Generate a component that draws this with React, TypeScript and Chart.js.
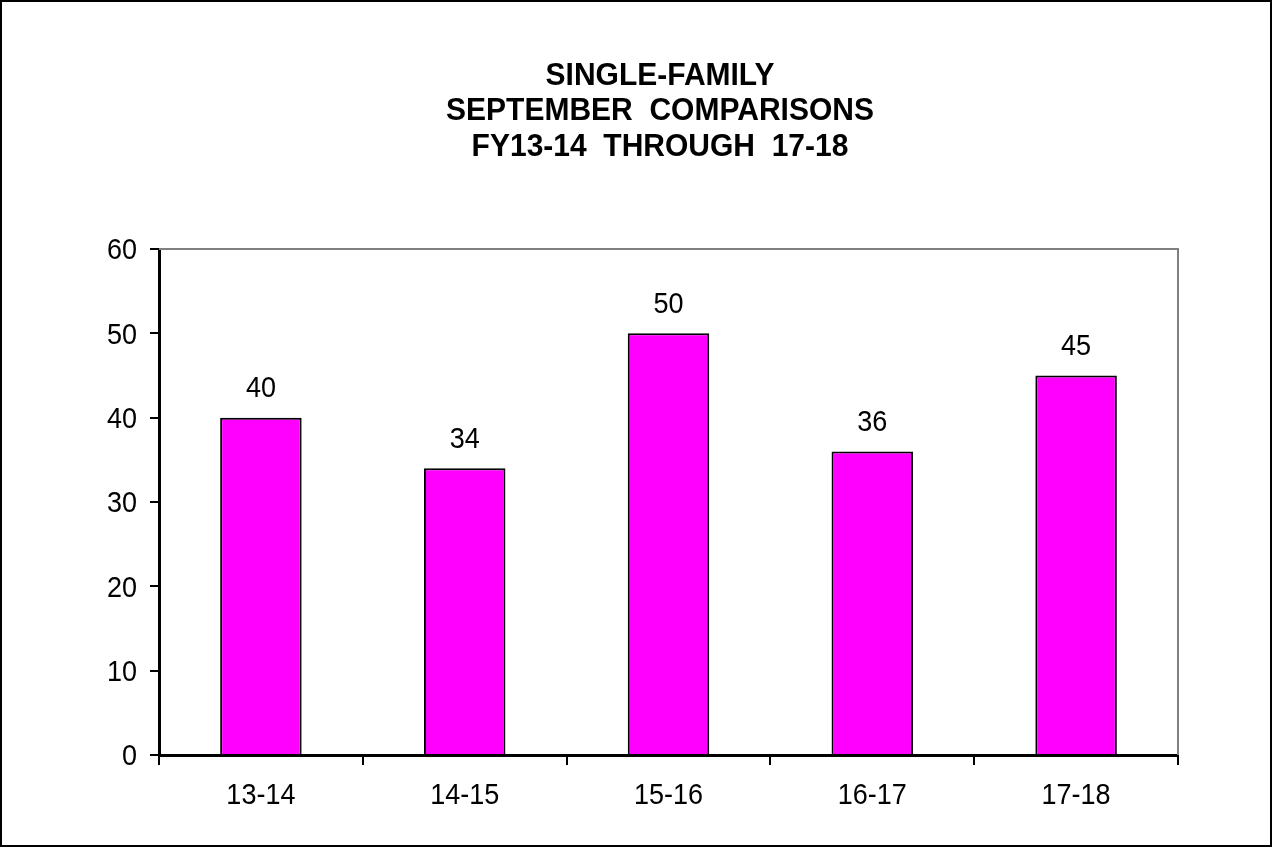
import React, { useEffect, useRef } from "react";
import { Chart, registerables } from "chart.js";

Chart.register(...registerables);

const titleLines = ["SINGLE-FAMILY", "SEPTEMBER  COMPARISONS", "FY13-14  THROUGH  17-18"];
const categories = ["13-14", "14-15", "15-16", "16-17", "17-18"];
const values = [40, 34, 50, 36, 45];
const yTicks = [0, 10, 20, 30, 40, 50, 60];

const FONT = "'Liberation Sans', Arial, sans-serif";

function stretchedText(ctx: any, text: string, x: number, y: number, sy: number) {
  ctx.save();
  ctx.translate(x, y);
  ctx.scale(1, sy);
  ctx.fillText(text, 0, 0);
  ctx.restore();
}

const decorPlugin = {
  id: "decor",
  beforeDraw(chart: any) {
    const ctx = chart.ctx;
    ctx.save();
    ctx.fillStyle = "#ffffff";
    ctx.fillRect(0, 0, chart.width, chart.height);
    ctx.restore();
  },
  afterDraw(chart: any) {
    const ctx = chart.ctx;
    const a = chart.chartArea;
    ctx.save();
    // gray top/right plot border
    ctx.strokeStyle = "#808080";
    ctx.lineWidth = 2;
    ctx.beginPath();
    ctx.moveTo(a.left, a.top);
    ctx.lineTo(a.right, a.top);
    ctx.lineTo(a.right, a.bottom);
    ctx.stroke();
    // outer border
    ctx.strokeStyle = "#000000";
    ctx.lineWidth = 2;
    ctx.strokeRect(1, 1, chart.width - 3, chart.height - 3);
    // title
    ctx.fillStyle = "#000000";
    ctx.font = "bold 30px " + FONT;
    ctx.textAlign = "center";
    ctx.textBaseline = "middle";
    const cx = 660;
    const titleY = [76, 111.5, 147];
    titleLines.forEach((t, i) => {
      stretchedText(ctx, t, cx, titleY[i], 1.07);
    });
    // data labels + tick labels
    ctx.font = "27px " + FONT;
    const meta = chart.getDatasetMeta(0);
    meta.data.forEach((bar: any, i: number) => {
      stretchedText(ctx, String(values[i]), bar.x, bar.y - 29, 1.12);
    });
    const xs = chart.scales.x;
    categories.forEach((c, i) => {
      stretchedText(ctx, c, xs.getPixelForValue(i), 796, 1.12);
    });
    const ys = chart.scales.y;
    ctx.textAlign = "right";
    yTicks.forEach((v) => {
      stretchedText(ctx, String(v), 137, ys.getPixelForValue(v) + 2, 1.12);
    });
    ctx.restore();
  },
};

export default function App() {
  const ref = useRef<HTMLCanvasElement | null>(null);
  useEffect(() => {
    document.body.style.margin = "0";
    const canvas = ref.current!;
    const chart = new Chart(canvas, {
      type: "bar",
      data: {
        labels: categories,
        datasets: [
          {
            data: values,
            backgroundColor: "#FF00FF",
            borderColor: "#000000",
            borderWidth: 2,
            barPercentage: 0.4,
            categoryPercentage: 1,
          },
        ],
      },
      options: {
        animation: false,
        responsive: false,
        maintainAspectRatio: false,
        layout: { padding: { top: 249, right: 95, left: 0, bottom: 0 } },
        plugins: {
          legend: { display: false },
          title: { display: false },
          tooltip: { enabled: false },
        },
        scales: {
          x: {
            offset: true,
            grid: {
              offset: true,
              drawOnChartArea: false,
              drawTicks: true,
              tickLength: 10,
              color: "#000000",
              lineWidth: 2,
            },
            border: { color: "#000000", width: 3 },
            ticks: { display: false },
            afterFit(scale: any) {
              scale.height = 93;
            },
          },
          y: {
            min: 0,
            max: 60,
            afterBuildTicks(scale: any) {
              scale.ticks = yTicks.map((v) => ({ value: v }));
            },
            grid: {
              drawOnChartArea: false,
              drawTicks: true,
              tickLength: 9,
              color: "#000000",
              lineWidth: 2,
            },
            border: { color: "#000000", width: 3 },
            ticks: { display: false },
            afterFit(scale: any) {
              scale.width = 159;
            },
          },
        },
      },
      plugins: [decorPlugin],
    });
    return () => chart.destroy();
  }, []);
  return (
    <div style={{ position: "absolute", left: 0, top: 0, width: 1273, height: 848 }}>
      <canvas ref={ref} width={1273} height={848} style={{ width: 1273, height: 848, display: "block" }} />
    </div>
  );
}
